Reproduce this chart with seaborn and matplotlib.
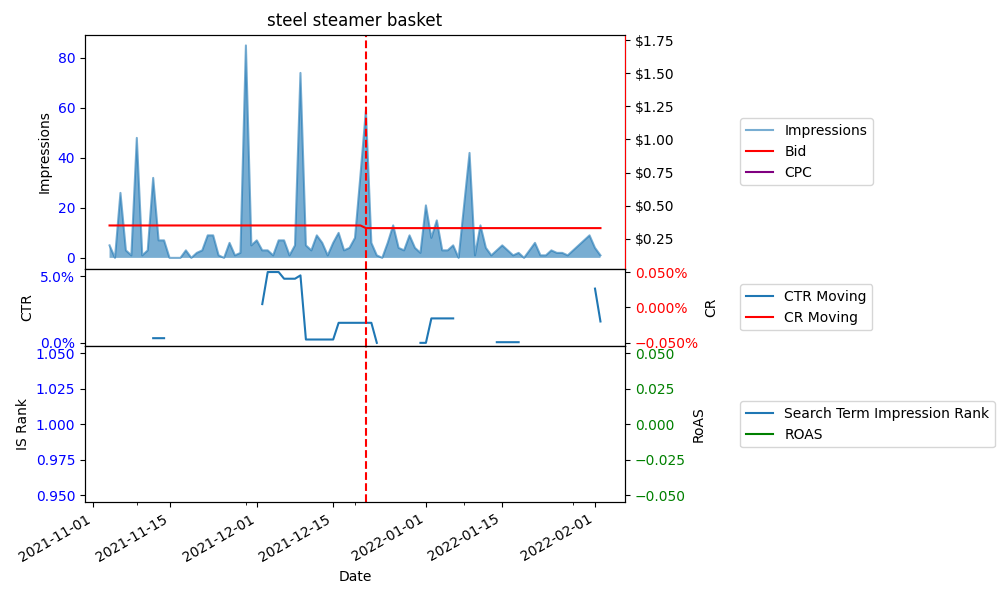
import numpy as np
import pandas as pd
import seaborn as sns
import matplotlib.pyplot as plt
import matplotlib.dates as mdates
from matplotlib.ticker import PercentFormatter, StrMethodFormatter, FixedLocator

nan = np.nan

# dados: um ponto por dia
dates = pd.date_range("2021-11-04", periods=91, freq="D")

impressions = [
    5, 0, 26, 3, 1, 48, 1, 3, 32, 7,
    7, 0, 0, 0, 3, 0, 2, 3, 9, 9,
    1, 0, 6, 1, 2, 85, 5, 7, 3, 3,
    1, 7, 7, 1, 5, 74, 5, 3, 9, 6,
    1, 6, 10, 3, 4, 8, 33, 59, 6, 1,
    0, 6, 13, 4, 3, 9, 4, 2, 21, 8,
    15, 3, 3, 5, 0, 21, 42, 1, 13, 4,
    1, 3, 5, 3, 1, 2, 0, 3, 6, 1,
    1, 3, 2, 2, 1, 3, 5, 7, 9, 4,
    1,
]

bid = [
    0.35, 0.35, 0.35, 0.35, 0.35, 0.35, 0.35, 0.35, 0.35, 0.35,
    0.35, 0.35, 0.35, 0.35, 0.35, 0.35, 0.35, 0.35, 0.35, 0.35,
    0.35, 0.35, 0.35, 0.35, 0.35, 0.35, 0.35, 0.35, 0.35, 0.35,
    0.35, 0.35, 0.35, 0.35, 0.35, 0.35, 0.35, 0.35, 0.35, 0.35,
    0.35, 0.35, 0.35, 0.35, 0.35, 0.35, 0.35, 0.33, 0.33, 0.33,
    0.33, 0.33, 0.33, 0.33, 0.33, 0.33, 0.33, 0.33, 0.33, 0.33,
    0.33, 0.33, 0.33, 0.33, 0.33, 0.33, 0.33, 0.33, 0.33, 0.33,
    0.33, 0.33, 0.33, 0.33, 0.33, 0.33, 0.33, 0.33, 0.33, 0.33,
    0.33, 0.33, 0.33, 0.33, 0.33, 0.33, 0.33, 0.33, 0.33, 0.33,
    0.33,
]

# CTR móvel em %, com lacunas
ctr_moving = [
    nan, nan, nan, nan, nan, nan, nan, nan, 0.35, 0.35,
    0.35, nan, nan, nan, nan, nan, nan, nan, nan, nan,
    nan, nan, nan, nan, nan, nan, nan, nan, 2.9, 5.3,
    5.3, 5.3, 4.8, 4.8, 4.8, 5.05, 0.25, 0.25, 0.25, 0.25,
    0.25, 0.25, 1.5, 1.5, 1.5, 1.5, 1.5, 1.5, 1.5, 0.0,
    nan, nan, nan, nan, nan, nan, nan, 0.0, 0.0, 1.83,
    1.83, 1.83, 1.83, 1.83, nan, nan, nan, nan, nan, nan,
    nan, 0.05, 0.05, 0.05, 0.05, 0.05, nan, nan, nan, nan,
    nan, nan, nan, nan, nan, nan, nan, nan, nan, 4.06,
    1.6,
]

# séries sem nenhum valor visível no gráfico
cpc = [nan] * len(dates)
cr_moving = [nan] * len(dates)
is_rank = [nan] * len(dates)
roas = [nan] * len(dates)

event_date = pd.Timestamp("2021-12-21")
minor_tick_dates = pd.to_datetime(["2021-11-09", "2021-11-29", "2021-12-19", "2022-01-08", "2022-01-28"])

fig, axes = plt.subplots(3, 1, figsize=(10, 6), dpi=100, sharex=True,
                         gridspec_kw={"height_ratios": [3, 1, 2]})
ax0, ax1, ax2 = axes

# 1. Impressões + Bid/CPC
sns.lineplot(x=dates, y=impressions, ax=ax0, alpha=0.6, label="Impressions", legend=False)
ax0.fill_between(dates, impressions, alpha=0.6)
ax0.set_ylabel("Impressions")
ax0.tick_params(axis="y", labelcolor="blue")
ax0.set_title("steel steamer basket")

ax0r = ax0.twinx()
sns.lineplot(x=dates, y=bid, ax=ax0r, color="red", label="Bid", legend=False)
ax0r.plot(dates, cpc, color="purple", label="CPC")
ax0r.set_ylim(0.025, 1.79)
ax0r.yaxis.set_major_formatter(StrMethodFormatter("${x:,.2f}"))
ax0r.spines["right"].set_color("red")
h1, l1 = ax0.get_legend_handles_labels()
h2, l2 = ax0r.get_legend_handles_labels()
ax0r.legend(h1 + h2, l1 + l2, loc="center left", bbox_to_anchor=(1.2, 0.5))

# 2. CTR / CR
ax1.plot(dates, ctr_moving, label="CTR Moving")
ax1.yaxis.set_major_formatter(PercentFormatter(100, decimals=1))
ax1.set_ylabel("CTR")
ax1.tick_params(axis="y", labelcolor="blue")

ax1r = ax1.twinx()
ax1r.plot(dates, cr_moving, color="red", label="CR Moving")
ax1r.set_ylim(-0.055, 0.055)
ax1r.yaxis.set_major_formatter(PercentFormatter(100, decimals=3))
ax1r.set_ylabel("CR")
ax1r.tick_params(axis="y", labelcolor="red")
h1, l1 = ax1.get_legend_handles_labels()
h2, l2 = ax1r.get_legend_handles_labels()
ax1r.legend(h1 + h2, l1 + l2, loc="center left", bbox_to_anchor=(1.2, 0.5))

# 3. IS Rank / ROAS
ax2.plot(dates, is_rank, label="Search Term Impression Rank")
ax2.set_ylim(0.945, 1.055)
ax2.set_ylabel("IS Rank")
ax2.tick_params(axis="y", labelcolor="blue")
ax2.set_xlabel("Date")

ax2r = ax2.twinx()
ax2r.plot(dates, roas, color="green", label="ROAS")
ax2r.set_ylim(-0.055, 0.055)
ax2r.set_ylabel("RoAS")
ax2r.tick_params(axis="y", labelcolor="green")
h1, l1 = ax2.get_legend_handles_labels()
h2, l2 = ax2r.get_legend_handles_labels()
ax2r.legend(h1 + h2, l1 + l2, loc="center left", bbox_to_anchor=(1.2, 0.5))

for ax in axes:
    ax.axvline(event_date, color="red", linestyle="--")

ax2.xaxis.set_minor_locator(FixedLocator(mdates.date2num(minor_tick_dates)))

fig.subplots_adjust(left=0.085, right=0.625, top=0.942, hspace=0)
fig.autofmt_xdate(bottom=0.163)
plt.savefig("out.png")
